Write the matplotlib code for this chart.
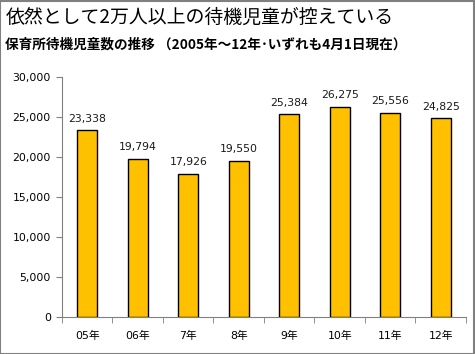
import matplotlib
matplotlib.use("Agg")
import matplotlib.pyplot as plt
from matplotlib.patches import Rectangle
from matplotlib.ticker import FuncFormatter, MultipleLocator

plt.rcParams['font.family'] = ['DejaVu Sans', 'Noto Sans CJK JP']

categories = ["05年", "06年", "7年", "8年", "9年", "10年", "11年", "12年"]
values = [23338, 19794, 17926, 19550, 25384, 26275, 25556, 24825]
title = "依然として2万人以上の待機児童が控えている"
subtitle = "保育所待機児童数の推移 （2005年～12年･いずれも4月1日現在）"

fig = plt.figure(figsize=(4.75, 3.54), dpi=100)
fig.patches.append(Rectangle((0.001, 0.001), 0.997, 0.996, transform=fig.transFigure,
                             fill=False, edgecolor="#808080", linewidth=1.5))
ax = fig.add_axes([0.1305, 0.1045, 0.8505, 0.678])

x = range(len(categories))
bars = ax.bar(x, values, width=0.4, color="#FFC000", edgecolor="black", linewidth=1.0)
for xi, v in zip(x, values):
    ax.text(xi, v + 800, f"{v:,}", ha="center", va="bottom", fontsize=7.8, color="#1a1a1a")

ax.set_xlim(-0.5, len(categories) - 0.5)
ax.set_ylim(0, 30000)
ax.yaxis.set_major_locator(MultipleLocator(5000))
ax.yaxis.set_major_formatter(FuncFormatter(lambda v, p: f"{int(v):,}"))
ax.set_xticks(list(x))
ax.set_xticklabels(categories)
ax.set_xticks([i - 0.5 for i in range(len(categories) + 1)], minor=True)
ax.tick_params(axis="x", which="major", length=0, pad=10, labelsize=7.8)
ax.tick_params(axis="x", which="minor", length=4, color="#808080")
ax.tick_params(axis="y", length=4, color="#808080", labelsize=7.8, pad=4)
for s in ["top", "right"]:
    ax.spines[s].set_visible(False)
for s in ["left", "bottom"]:
    ax.spines[s].set_color("#808080")

cjk = ['Noto Sans CJK JP', 'DejaVu Sans']
fig.text(0.013, 0.95, title, fontsize=13.6, ha="left", va="center", family=cjk)
fig.text(0.011, 0.875, subtitle, fontsize=9.8, fontweight="bold", ha="left", va="center", family=cjk)

fig.savefig("out.png", dpi=100)
